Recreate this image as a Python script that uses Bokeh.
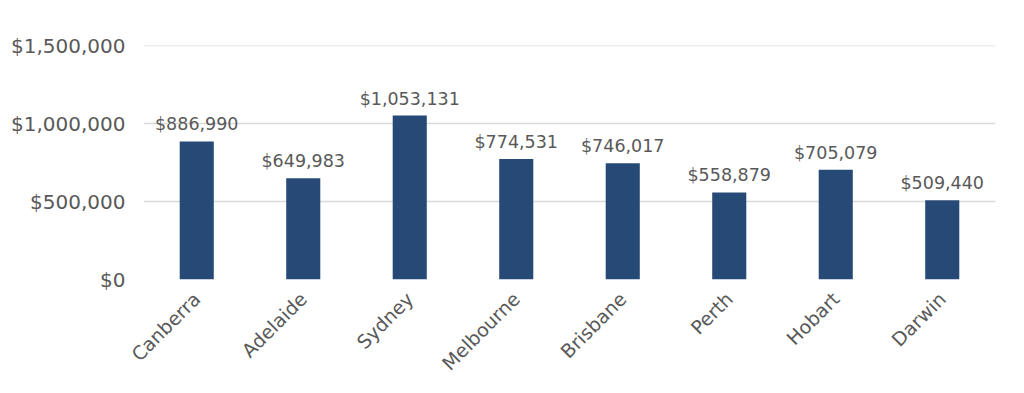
import math
from bokeh.plotting import figure
from bokeh.models import ColumnDataSource, FactorRange, Range1d, NumeralTickFormatter, FixedTicker, LabelSet
from bokeh.core.properties import value
from bokeh.embed import file_html
from bokeh.resources import INLINE

cities = ["Canberra", "Adelaide", "Sydney", "Melbourne", "Brisbane", "Perth", "Hobart", "Darwin"]
prices = [886990, 649983, 1053131, 774531, 746017, 558879, 705079, 509440]
y_ticks = [0, 500000, 1000000, 1500000]

labels = ["${:,}".format(v) for v in prices]
src = ColumnDataSource(dict(city=cities, price=prices, label=labels))

FONT = "DejaVu Sans"
TXT = "#595959"

p = figure(width=1008, height=385, x_range=FactorRange(*cities, range_padding=0),
           y_range=Range1d(0, 1503000), output_backend="svg", toolbar_location=None,
           min_border_left=143, min_border_right=13, min_border_top=45, min_border_bottom=106)
p.outline_line_color = None

p.vbar(x="city", top="price", width=0.32, source=src, fill_color="#264a75", line_color=None)

p.add_layout(LabelSet(x="city", y="price", text="label", source=src, text_align="center",
                      text_baseline="bottom", y_offset=7, text_font=value(FONT),
                      text_font_size="17.5px", text_color=TXT))

p.yaxis.ticker = FixedTicker(ticks=y_ticks)
p.yaxis.formatter = NumeralTickFormatter(format="$0,0")
p.yaxis.axis_line_color = None
p.yaxis.major_tick_line_color = None
p.yaxis.minor_tick_line_color = None
p.yaxis.major_label_standoff = 12
p.yaxis.major_label_text_font = FONT
p.yaxis.major_label_text_font_size = "20px"
p.yaxis.major_label_text_color = TXT

p.xaxis.axis_line_color = None
p.xaxis.major_tick_line_color = None
p.xaxis.minor_tick_line_color = None
p.xaxis.major_label_orientation = math.pi / 4
p.xaxis.major_label_standoff = 10
p.xaxis.major_label_text_font = FONT
p.xaxis.major_label_text_font_size = "19px"
p.xaxis.major_label_text_color = TXT

p.xgrid.grid_line_color = None
p.ygrid.grid_line_color = "#d9d9d9"
p.ygrid.grid_line_width = 1.5

open("out.html", "w").write(file_html(p, INLINE))
